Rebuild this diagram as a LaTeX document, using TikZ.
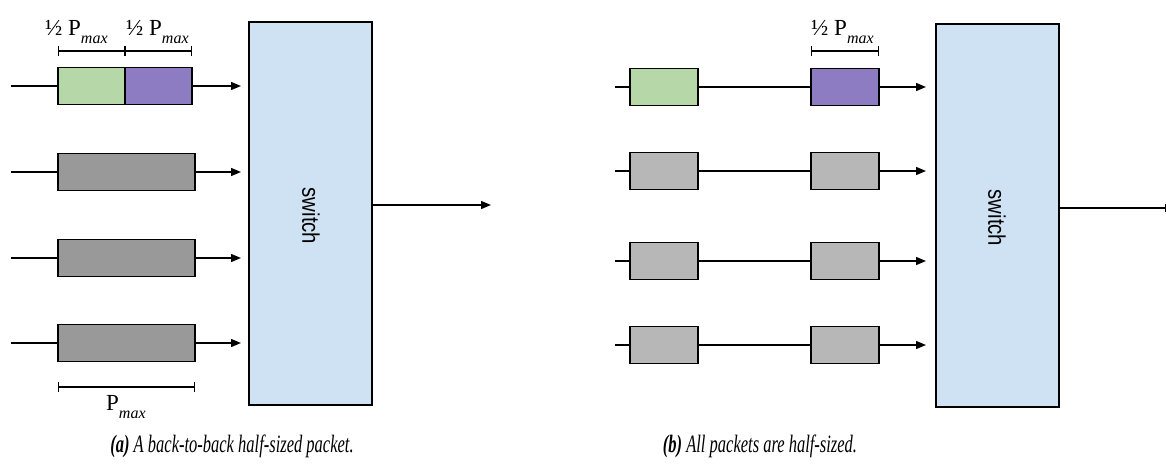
\documentclass[tikz,border=0pt]{standalone}
\usepackage{fontspec}
\setmainfont{Liberation Serif}
\newfontfamily\swfont{Liberation Sans}
\usetikzlibrary{arrows.meta}
\definecolor{pktgreen}{HTML}{B6D7A8}
\definecolor{pktpurple}{HTML}{8E7CC3}
\definecolor{pktdark}{HTML}{999999}
\definecolor{pktlight}{HTML}{B7B7B7}
\definecolor{swblue}{HTML}{CFE2F3}
\tikzset{
  wire/.style={line width=1.4pt, draw=black},
  feed/.style={wire, -{Stealth[length=10pt,width=8pt,inset=0pt]}},
  pkt/.style={draw=black, line width=1.8pt, minimum height=37pt, inner sep=0pt, outer sep=0pt},
  swbox/.style={draw=black, line width=1.8pt, fill=swblue, minimum width=123pt, minimum height=383pt, inner sep=0pt, outer sep=0pt},
  swlabel/.style={rotate=-90, inner sep=0pt, font=\swfont\fontsize{24}{24}\selectfont},
  span/.style={line width=1.4pt, {Bar[width=10pt,line width=1.4pt]}-{Bar[width=10pt,line width=1.4pt]}},
  lbl/.style={inner sep=0pt, anchor=base west, font=\fontsize{23}{23}\selectfont},
  captext/.style={inner sep=0pt, font=\fontsize{25}{25}\selectfont\itshape, anchor=base}
}
\newcommand{\pmax}{P\raisebox{-8pt}{\fontsize{16}{16}\selectfont\itshape max}}
\newcommand{\narrow}[2]{\scalebox{#1}[1]{#2}}
\begin{document}
\begin{tikzpicture}[x=1pt,y=-1pt]
\useasboundingbox (0,0) rectangle (1166,468);

% ---------- (a) ----------
\node[swbox, anchor=north west] (swa) at (249,22) {};
\node[swlabel] (swatext) at (311,216) {\narrow{0.85}{switch}};

% row 1: two half-sized packets back to back
\coordinate (a1s) at (11,86);
\node[pkt, fill=pktgreen, minimum width=67pt, anchor=west] (a1g) at (58,86) {};
\node[pkt, fill=pktpurple, minimum width=67pt, anchor=west] (a1p) at (a1g.east) {};
\coordinate (a1e) at (241,86);
\draw[wire] (a1s) -- (a1g.west);
\draw[feed] (a1p.east) -- (a1e);

% rows 2-4: full-sized packets
\foreach \r/\y in {2/172,3/258,4/343}{
  \coordinate (a\r s) at (11,\y);
  \node[pkt, fill=pktdark, minimum width=137pt, anchor=west] (a\r b) at (58,\y) {};
  \coordinate (a\r e) at (241,\y);
  \draw[wire] (a\r s) -- (a\r b.west);
  \draw[feed] (a\r b.east) -- (a\r e);
}

% output
\coordinate (aout) at (491,205);
\draw[feed] (swa.east |- aout) -- (aout);

% size brackets
\coordinate (ba1) at (58,51);
\coordinate (ba2) at (125,51);
\coordinate (ba3) at (192,51);
\draw[span] (ba1) -- (ba2);
\draw[span] (ba2) -- (ba3);
\node[lbl] (la1) at (45,36) {½ \pmax};
\node[lbl] (la2) at (126,36) {½ \pmax};
\coordinate (bb1) at (58,387);
\coordinate (bb2) at (195,387);
\draw[span] (bb1) -- (bb2);
\node[lbl] (la3) at (106,410) {\pmax};

% ---------- (b) ----------
\node[swbox, anchor=north west] (swb) at (936,24) {};
\node[swlabel] (swbtext) at (997,218) {\narrow{0.85}{switch}};

\foreach \r/\y/\c in {1/87/pktgreen,2/171/pktlight,3/261/pktlight,4/345/pktlight}{
  \coordinate (b\r s) at (615,\y);
  \node[pkt, fill=\c, minimum width=68pt, anchor=west] (b\r x) at (630,\y) {};
  \coordinate (b\r e) at (926,\y);
  \draw[wire] (b\r s) -- (b\r x.west);
}
\foreach \r/\y/\c in {1/87/pktpurple,2/171/pktlight,3/261/pktlight,4/345/pktlight}{
  \node[pkt, fill=\c, minimum width=68pt, anchor=west] (b\r y) at (811,\y) {};
  \draw[wire] (b\r x.east) -- (b\r y.west);
  \draw[feed] (b\r y.east) -- (b\r e);
}

\coordinate (bout) at (1175,208);
\draw[feed] (swb.east |- bout) -- (bout);

\coordinate (bc1) at (811,51);
\coordinate (bc2) at (879,51);
\draw[span] (bc1) -- (bc2);
\node[lbl] (lb1) at (811,36) {½ \pmax};

% ---------- captions ----------
\node[captext] (capa) at (232,452) {\narrow{0.66}{\textbf{(a)} A back-to-back half-sized packet.}};
\node[captext] (capb) at (760,452) {\narrow{0.66}{\textbf{(b)} All packets are half-sized.}};
\end{tikzpicture}
\end{document}
